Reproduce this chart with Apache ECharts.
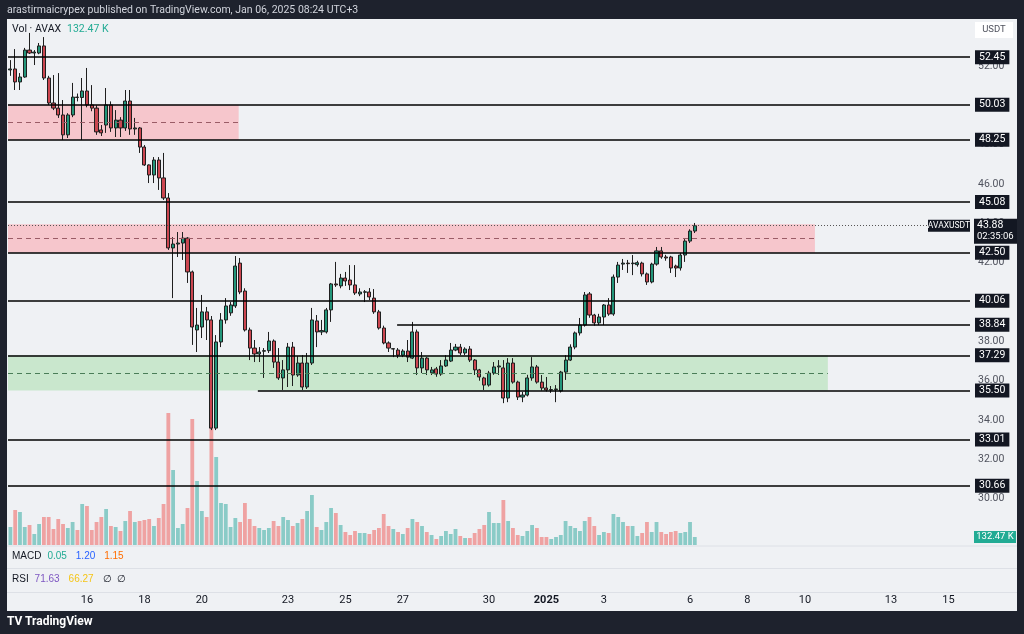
<!DOCTYPE html>
<html><head><meta charset="utf-8">
<script src="https://cdn.jsdelivr.net/npm/echarts@6/dist/echarts.min.js"></script>
<style>html,body{margin:0;padding:0;background:#1e222d;}#c{width:1024px;height:634px;}</style>
</head><body><div id="c"></div>
<script>
// ---------- DATA (4h AVAX/USDT candles, index 0 = Dec 13 11:00 UTC+3) ----------
const opens = [51.80,51.85,51.19,51.44,52.81,52.66,52.66,53.02,51.39,50.12,
49.86,49.51,48.50,49.51,50.42,50.40,50.73,50.02,49.86,48.75,
49.00,50.02,48.85,49.25,48.85,50.22,48.80,48.85,47.88,46.97,
46.46,47.22,46.31,45.29,42.75,42.95,43.00,43.25,41.53,38.58,
38.73,39.50,39.09,33.59,37.97,39.09,39.45,39.80,41.98,40.56,
38.58,37.66,37.36,37.50,37.53,38.02,36.95,36.14,36.55,37.71,
36.29,36.90,35.68,36.90,39.04,38.48,38.48,39.60,40.92,40.82,
41.22,41.12,40.87,40.41,40.50,40.51,40.20,39.50,38.68,37.92,
37.61,37.56,37.30,37.51,37.15,38.48,36.65,37.15,36.40,36.60,
36.34,36.75,37.00,37.56,37.71,37.41,37.61,37.05,36.55,36.14,
35.78,36.39,36.70,36.65,35.12,36.90,35.93,35.17,35.27,36.14,
36.70,35.93,35.63,35.53,35.55,35.48,36.44,37.05,37.71,38.43,
38.83,40.41,39.34,38.94,39.24,39.85,39.39,41.27,41.93,41.98,
41.95,41.90,41.98,41.43,41.02,41.93,42.60,42.29,42.29,41.83,
41.73,42.39,43.10,43.61];
const highs = [52.30,52.86,51.64,52.92,53.68,52.81,53.17,53.47,51.50,51.54,
51.64,50.27,49.60,51.14,50.60,51.39,51.90,51.03,50.00,49.00,
50.88,50.20,49.76,49.40,50.78,50.78,49.36,48.90,47.98,47.00,
47.37,47.37,47.58,45.54,43.30,43.56,43.56,43.30,41.60,39.70,
40.36,39.75,39.29,38.32,39.44,40.20,40.00,42.34,42.24,40.70,
38.70,38.07,37.71,37.66,38.48,38.10,37.66,37.05,37.92,37.97,
37.25,37.30,37.41,39.70,39.34,39.09,39.70,40.97,42.04,41.43,
41.53,41.88,41.88,40.70,40.61,40.71,40.66,39.60,38.80,38.00,
37.66,37.66,37.60,38.07,38.99,38.60,37.46,37.20,36.70,36.70,
37.05,37.30,37.92,37.87,37.87,37.70,37.76,37.10,36.60,36.20,
36.50,36.95,37.05,37.05,37.15,37.15,36.00,35.43,36.30,37.20,
36.80,36.29,36.19,35.73,35.78,36.50,37.30,37.85,38.50,39.19,
40.51,40.51,39.40,39.40,39.90,40.20,41.40,42.04,42.19,42.14,
42.39,42.10,42.05,41.50,42.00,42.80,42.80,42.40,42.35,41.90,
42.50,43.20,43.70,44.02];
const lows = [51.50,50.78,50.78,51.40,52.61,52.05,52.60,51.29,50.02,49.76,
49.36,48.24,48.34,49.40,50.20,48.24,49.90,49.70,48.50,48.44,
48.60,48.65,48.39,48.39,48.70,48.50,48.50,47.58,46.92,46.05,
46.05,45.70,45.19,42.65,40.20,42.29,42.14,40.97,37.82,37.46,
38.17,38.07,33.49,33.49,37.71,38.90,39.30,39.70,40.40,38.50,
37.05,36.95,36.95,36.14,37.41,36.65,36.04,35.53,35.68,35.73,
36.20,35.53,35.58,36.80,37.71,38.32,38.40,38.99,40.77,40.70,
40.82,40.61,40.36,40.30,40.00,40.10,39.40,38.60,37.85,37.46,
37.20,37.15,37.20,36.95,37.10,36.29,36.39,36.29,36.29,36.20,
36.25,36.70,36.95,37.50,37.30,37.30,36.95,36.29,36.00,35.53,
35.70,36.30,36.29,34.86,34.91,35.85,35.02,34.91,35.20,36.00,
35.85,35.50,35.45,35.38,34.91,35.40,36.04,37.00,37.60,38.30,
38.75,39.20,38.80,38.83,38.83,39.30,39.30,40.97,41.63,41.48,
41.37,41.80,41.30,40.87,40.95,41.85,42.20,42.10,41.48,41.27,
41.60,42.04,43.00,43.51];
const closes = [51.85,51.19,51.44,52.81,52.66,52.71,53.02,51.39,50.12,49.86,
49.51,48.50,49.51,50.42,50.40,50.73,50.02,49.86,48.65,48.60,
50.02,48.85,49.25,48.85,50.22,48.80,48.85,47.88,46.97,46.46,
47.22,46.31,45.29,42.75,42.95,43.00,43.25,41.53,38.73,38.83,
39.50,39.09,33.59,37.97,39.09,39.80,39.85,41.83,40.51,38.58,
37.66,37.36,37.46,37.53,38.02,36.95,36.14,36.55,37.71,36.29,
36.90,35.68,36.90,39.09,38.48,38.55,39.60,40.92,40.87,41.22,
41.07,40.87,40.46,40.51,40.52,40.26,39.50,38.68,37.92,37.66,
37.63,37.30,37.51,37.20,38.48,36.65,37.15,36.55,36.55,36.34,
36.75,37.05,37.56,37.71,37.41,37.61,37.05,36.55,36.19,35.78,
36.39,36.70,36.75,35.12,36.90,35.93,35.17,35.27,36.14,36.70,
35.93,35.63,35.53,35.55,35.58,36.44,37.05,37.71,38.43,38.83,
40.36,39.34,38.94,39.24,39.85,39.39,41.27,41.88,41.98,41.95,
41.98,42.00,41.43,41.02,41.93,42.60,42.29,42.24,41.73,41.73,
42.39,43.10,43.61,43.88];
// volume in thousands of AVAX
const volumes = [297,578,545,297,330,182,347,462,462,264,
429,347,281,380,248,677,644,248,380,462,
594,314,297,231,396,561,380,396,413,429,
314,446,677,2178,1238,281,347,611,2079,1056,
561,462,2063,1452,693,677,297,446,380,693,
429,314,281,248,281,396,314,462,413,314,
363,429,561,825,297,248,380,611,528,330,
215,165,231,198,198,182,248,281,512,314,
264,215,182,281,429,380,314,215,165,99,
149,231,182,264,149,116,116,198,264,330,
545,363,363,743,396,281,165,149,231,330,
281,132,132,99,132,165,396,314,281,231,
396,462,314,165,215,198,512,462,380,314,
314,149,198,380,215,380,215,182,215,231,
198,215,380,132.47];

// horizontal levels and where (bar index) each line starts
const levels     = [52.45, 50.03, 48.25, 45.08, 42.50, 40.06, 38.84, 37.29, 35.50, 33.01, 30.66];
const levelStart = [-0.5, -0.5, -0.5, -0.5, -0.5, -0.5, 80.8, -0.5, 51.7, -0.5, -0.5];
// rectangles (zones): price top / bottom, last bar index covered
const zoneTop    = [50.03, 43.95, 37.29];
const zoneBottom = [48.25, 42.50, 35.50];
const zoneEnd    = [47.7, 168.1, 170.8];
// price axis ticks
const priceTicks = [30, 32, 34, 36, 38, 40, 42, 44, 46, 48, 50, 52];
// date axis ticks (bar index of the first 4h bar of that day) and their text
const dateTickIndex = [16, 28, 40, 58, 70, 82, 100, 112, 124, 142, 154, 166, 184, 196];
const dateTickText  = ['16','18','20','23','25','27','30','2025','3','6','8','10','13','15'];
const lastPrice = 43.88;
const countdown = '02:35:06';

// ---------- STYLE ----------
const FONT = 'Roboto, "Noto Sans", "DejaVu Sans", sans-serif';
const X_MIN = -0.5, X_MAX = 200.5;
const Y_MIN = 27.648, Y_MAX = 54.339;
const VOL_MAX = 2392.5;
const UP = '#23967a', DOWN = '#cc4650', EDGE = '#1f1f1f';
const VOL_UP = 'rgba(38,166,154,0.5)', VOL_DOWN = 'rgba(239,83,80,0.5)';
const ZONE_COLORS = ['#f6c6cc', '#f6c6cc', '#c9e7cd'];
const ZONE_MID = ['#9a5c66', '#9a5c66', '#4a7d58'];

const chart = echarts.init(document.getElementById('c'), null, {renderer: 'canvas', width: 1024, height: 634});

const candleData = opens.map((o, i) => [i, o, closes[i], lows[i], highs[i]]);
const volData = volumes.map((v, i) => ({
  value: [i, v],
  itemStyle: {color: closes[i] >= opens[i] ? VOL_UP : VOL_DOWN}
}));

const dateLab = {};
dateTickIndex.forEach((v, k) => { dateLab[v] = dateTickText[k]; });

const markLines = [];
levels.forEach((lv, k) => {
  markLines.push([
    {coord: [levelStart[k], lv], name: lv.toFixed(2)},
    {coord: [X_MAX, lv]}
  ]);
});
zoneTop.forEach((t, k) => {
  const mid = (t + zoneBottom[k]) / 2;
  markLines.push([
    {coord: [X_MIN, mid], lineStyle: {type: [5, 4], width: 1, color: ZONE_MID[k]}, label: {show: false}},
    {coord: [zoneEnd[k], mid]}
  ]);
});
markLines.push([
  {coord: [X_MIN, lastPrice], lineStyle: {type: [1, 2], width: 1, color: '#555'}, label: {show: false}},
  {coord: [X_MAX, lastPrice]}
]);

const option = {
  animation: false,
  backgroundColor: '#eff1f4',
  textStyle: {fontFamily: FONT},
  grid: [
    {left: 8, right: 54, top: 20, bottom: 89},
    {left: 8, right: 54, top: 400, bottom: 89},
    {left: 8, right: 54, top: 590, height: 1}
  ],
  xAxis: [
    {gridIndex: 0, type: 'value', min: X_MIN, max: X_MAX, show: false},
    {gridIndex: 1, type: 'value', min: X_MIN, max: X_MAX, show: false},
    {gridIndex: 2, type: 'value', min: X_MIN, max: X_MAX, position: 'bottom',
      axisLine: {show: false}, axisTick: {show: false}, splitLine: {show: false},
      axisLabel: {customValues: dateTickIndex, margin: 4, verticalAlign: 'top', color: '#131722', fontSize: 11, fontFamily: FONT,
        formatter: v => dateLab[v] === '2025' ? '{b|2025}' : (dateLab[v] || ''),
        rich: {b: {fontWeight: 'bold', fontSize: 11, color: '#131722', fontFamily: FONT}}}}
  ],
  yAxis: [
    {gridIndex: 0, type: 'value', position: 'right', min: Y_MIN, max: Y_MAX, scale: true,
      axisLine: {show: false}, axisTick: {show: false}, splitLine: {show: false},
      axisLabel: {customValues: priceTicks, formatter: v => v.toFixed(2), margin: 8, color: '#50535e', fontSize: 10.5, fontFamily: FONT}},
    {gridIndex: 1, type: 'value', min: 0, max: VOL_MAX, show: false},
    {gridIndex: 2, type: 'value', show: false}
  ],
  series: [
    {type: 'bar', xAxisIndex: 1, yAxisIndex: 1, data: volData, barWidth: 3.8, silent: true},
    {type: 'candlestick', xAxisIndex: 0, yAxisIndex: 0, data: candleData,
      encode: {x: 0, y: [1, 2, 3, 4]}, barWidth: 3.6, silent: true,
      itemStyle: {color: UP, color0: DOWN, borderColor: EDGE, borderColor0: EDGE, borderWidth: 1},
      markArea: {silent: true, z: 1,
        data: zoneTop.map((t, k) => [
          {coord: [X_MIN, t], itemStyle: {color: ZONE_COLORS[k]}},
          {coord: [zoneEnd[k], zoneBottom[k]]}
        ])},
      markLine: {silent: true, symbol: ['none', 'none'], animation: false,
        lineStyle: {color: '#000', width: 1.7, type: 'solid'},
        label: {show: true, position: 'end', distance: 5, formatter: '{b}', backgroundColor: '#131722', color: '#fff',
          padding: [1, 4, 1, 4], lineHeight: 12, fontSize: 10.5, fontFamily: FONT},
        data: markLines}
    }
  ]
};
chart.setOption(option);

// ---------- overlay labels (positions from the chart's own scales) ----------
const yP = chart.convertToPixel({xAxisIndex: 0, yAxisIndex: 0}, [0, lastPrice])[1];
const lastVol = volumes[volumes.length - 1];
const yV = chart.convertToPixel({xAxisIndex: 1, yAxisIndex: 1}, [0, lastVol])[1];
const T = (x, y, text, fill, size, extra) => Object.assign({type: 'text', x: x, y: y, z: 20,
  style: Object.assign({text: text, fill: fill, fontSize: size, fontFamily: FONT, verticalAlign: 'middle'}, extra || {})});

chart.setOption({graphic: [
  {type: 'rect', z: 30, shape: {x: 0, y: 0, width: 1024, height: 19}, style: {fill: '#1e222d'}},
  {type: 'rect', z: 30, shape: {x: 0, y: 0, width: 7, height: 634}, style: {fill: '#1e222d'}},
  {type: 'rect', z: 30, shape: {x: 1017, y: 0, width: 7, height: 634}, style: {fill: '#1e222d'}},
  {type: 'rect', z: 30, shape: {x: 0, y: 611, width: 1024, height: 23}, style: {fill: '#1e222d'}},
  Object.assign(T(7, 10, 'arastirmaicrypex published on TradingView.com, Jan 06, 2025 08:24 UTC+3', '#d1d4dc', 10.5), {z: 31}),
  {type: 'text', x: 12, y: 29, z: 20, style: {text: '{a|Vol · AVAX}  {b|132.47 K}', verticalAlign: 'middle', fontFamily: FONT,
    rich: {a: {fill: '#131722', fontSize: 10.5, fontFamily: FONT}, b: {fill: '#22ab94', fontSize: 10.5, fontFamily: FONT}}}},
  {type: 'line', z: 20, shape: {x1: 7, y1: 546, x2: 1017, y2: 546}, style: {stroke: '#dde0e6', lineWidth: 1}},
  {type: 'line', z: 20, shape: {x1: 7, y1: 568.5, x2: 1017, y2: 568.5}, style: {stroke: '#dde0e6', lineWidth: 1}},
  {type: 'line', z: 20, shape: {x1: 7, y1: 592.5, x2: 1017, y2: 592.5}, style: {stroke: '#dde0e6', lineWidth: 1}},
  {type: 'text', x: 12, y: 556, z: 20, style: {text: '{a|MACD}  {b|0.05}   {c|1.20}   {d|1.15}', verticalAlign: 'middle', fontFamily: FONT,
    rich: {a: {fill: '#131722', fontSize: 10}, b: {fill: '#22ab94', fontSize: 10}, c: {fill: '#2962ff', fontSize: 10}, d: {fill: '#ff6d00', fontSize: 10}}}},
  {type: 'text', x: 12, y: 579, z: 20, style: {text: '{a|RSI}  {b|71.63}   {c|66.27}   {a|∅}  {a|∅}', verticalAlign: 'middle', fontFamily: FONT,
    rich: {a: {fill: '#131722', fontSize: 10}, b: {fill: '#7e57c2', fontSize: 10}, c: {fill: '#f5c518', fontSize: 10}}}},
  {type: 'rect', z: 20, shape: {x: 975, y: 22, width: 38, height: 16}, style: {fill: '#ffffff'}},
  T(994, 30, 'USDT', '#50535e', 9.5, {align: 'center'}),
  {type: 'rect', z: 21, shape: {x: 928, y: yP - 6, width: 42, height: 12}, style: {fill: '#131722'}},
  Object.assign(T(949, yP, 'AVAXUSDT', '#ffffff', 8.5, {align: 'center'}), {z: 22}),
  {type: 'rect', z: 21, shape: {x: 974, y: yP - 7, width: 43, height: 25}, style: {fill: '#131722'}},
  Object.assign(T(977, yP, lastPrice.toFixed(2), '#ffffff', 10.5), {z: 22}),
  Object.assign(T(977, yP + 11, countdown, '#ffffff', 9.5), {z: 22}),
  {type: 'rect', z: 21, shape: {x: 974, y: yV - 6, width: 42, height: 12}, style: {fill: '#22ab94'}},
  Object.assign(T(995, yV, lastVol.toFixed(2) + ' K', '#ffffff', 9.5, {align: 'center'}), {z: 22}),
  Object.assign(T(7, 622, 'TV', '#ffffff', 12, {fontWeight: 'bold'}), {z: 31}),
  Object.assign(T(25, 622, 'TradingView', '#ffffff', 12, {fontWeight: 'bold'}), {z: 31})
]});
</script></body></html>
